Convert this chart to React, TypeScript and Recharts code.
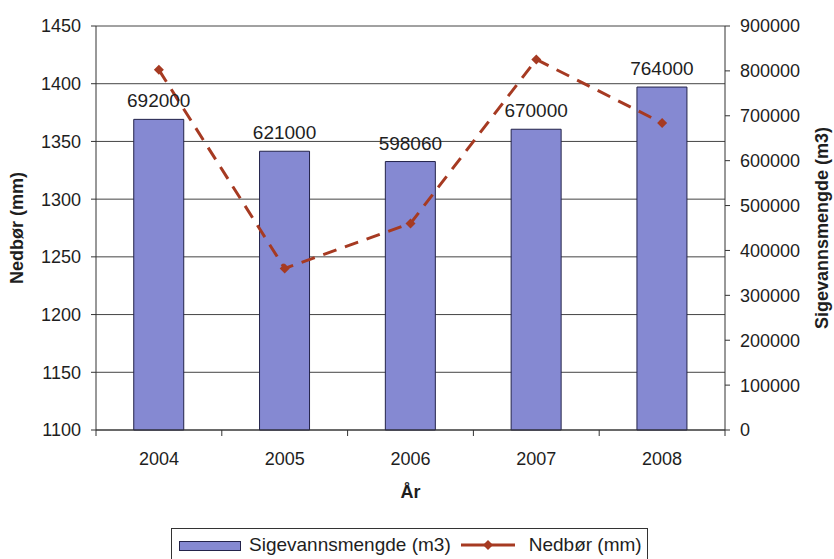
import React from "react";
import {
  ComposedChart,
  Bar,
  Line,
  XAxis,
  YAxis,
  CartesianGrid,
  LabelList,
  Legend,
} from "recharts";

const years = ["2004", "2005", "2006", "2007", "2008"];
const sigevann = [692000, 621000, 598060, 670000, 764000];
const nedbor = [1412, 1240, 1279, 1421, 1366];
const mmTicks = [1100, 1150, 1200, 1250, 1300, 1350, 1400, 1450];
const m3Ticks = [0, 100000, 200000, 300000, 400000, 500000, 600000, 700000, 800000, 900000];

const data = years.map((year, i) => ({
  year,
  sigevann: sigevann[i],
  nedbor: nedbor[i],
}));

const FONT = "'Liberation Sans', Arial, sans-serif";
const TEXT = "#1e1e1e";
const BAR_FILL = "#8589d2";
const BAR_STROKE = "#23234a";
const LINE_COLOR = "#a63a22";

function Diamond(props: any) {
  const { cx, cy, index } = props;
  if (cx == null || cy == null) return null;
  const r = 5;
  return (
    <polygon
      key={`d-${index}`}
      points={`${cx},${cy - r} ${cx + r},${cy} ${cx},${cy + r} ${cx - r},${cy}`}
      fill={LINE_COLOR}
    />
  );
}

function YearTick(props: any) {
  const { x, y, payload, index, visibleTicksCount } = props;
  const half = payload?.offset ?? 63;
  const axisY = y - 22;
  return (
    <g>
      <line x1={x - half} y1={axisY} x2={x - half} y2={axisY + 6} stroke="#333" />
      {index === visibleTicksCount - 1 && (
        <line x1={x + half} y1={axisY} x2={x + half} y2={axisY + 6} stroke="#333" />
      )}
      <text x={x} y={y} dy="0.71em" textAnchor="middle" fontSize={18} fill={TEXT} fontFamily={FONT}>
        {payload.value}
      </text>
    </g>
  );
}

function LegendBox() {
  return (
    <div
      style={{
        boxSizing: "border-box",
        width: 477,
        height: 33,
        border: "1px solid #333",
        display: "flex",
        alignItems: "center",
        paddingLeft: 7,
        fontFamily: FONT,
        fontSize: 19,
        color: TEXT,
        background: "#fff",
      }}
    >
      <span
        style={{
          display: "inline-block",
          width: 60,
          height: 8,
          background: BAR_FILL,
          border: `1px solid ${BAR_STROKE}`,
          marginRight: 8,
          marginTop: 3,
        }}
      />
      <span>Sigevannsmengde (m3)</span>
      <svg width={58} height={14} style={{ marginLeft: 8, marginRight: 12 }}>
        <line x1={2} y1={7} x2={56} y2={7} stroke={LINE_COLOR} strokeWidth={3} />
        <polygon points="29,2 34,7 29,12 24,7" fill={LINE_COLOR} />
      </svg>
      <span>Nedbør (mm)</span>
    </div>
  );
}

export default function App() {
  return (
    <div style={{ width: 834, height: 559, background: "#fff" }}>
      <style>{`body{margin:0}`}</style>
      <ComposedChart
        width={834}
        height={559}
        data={data}
        margin={{ top: 26, right: 0, bottom: 0, left: 0 }}
        barCategoryGap="30%"
        style={{ fontFamily: FONT }}
      >
        <CartesianGrid yAxisId="mm" vertical={false} stroke="#444" strokeWidth={1} />
        <XAxis
          dataKey="year"
          height={129}
          tickLine={false}
          tickSize={0}
          tickMargin={22}
          axisLine={{ stroke: "#333" }}
          tick={<YearTick />}
          interval={0}
          label={({ viewBox }: any) => (
            <text
              x={viewBox.x + viewBox.width / 2}
              y={viewBox.y + 62}
              textAnchor="middle"
              dominantBaseline="central"
              fontSize={18}
              fontWeight="bold"
              fill={TEXT}
              fontFamily={FONT}
            >
              År
            </text>
          )}
        />
        <YAxis
          yAxisId="mm"
          width={96}
          domain={[1100, 1450]}
          ticks={mmTicks}
          interval={0}
          tickSize={5}
          tickMargin={10}
          axisLine={{ stroke: "#333" }}
          tickLine={{ stroke: "#333" }}
          tick={{ fontSize: 18, fill: TEXT, fontFamily: FONT }}
          label={({ viewBox }: any) => (
            <text
              x={viewBox.x + 17}
              y={viewBox.y + viewBox.height / 2}
              transform={`rotate(-90 ${viewBox.x + 17} ${viewBox.y + viewBox.height / 2})`}
              textAnchor="middle"
              dominantBaseline="central"
              fontSize={18}
              fontWeight="bold"
              fill={TEXT}
              fontFamily={FONT}
            >
              Nedbør (mm)
            </text>
          )}
        />
        <YAxis
          yAxisId="m3"
          orientation="right"
          width={109}
          domain={[0, 900000]}
          ticks={m3Ticks}
          interval={0}
          tickSize={5}
          tickMargin={10}
          axisLine={{ stroke: "#333" }}
          tickLine={{ stroke: "#333" }}
          tick={{ fontSize: 18, fill: TEXT, fontFamily: FONT }}
          label={({ viewBox }: any) => {
            const cx = viewBox.x + viewBox.width - 12;
            const cy = viewBox.y + viewBox.height / 2;
            return (
              <text
                x={cx}
                y={cy}
                transform={`rotate(-90 ${cx} ${cy})`}
                textAnchor="middle"
                dominantBaseline="central"
                fontSize={18}
                fontWeight="bold"
                fill={TEXT}
                fontFamily={FONT}
              >
                Sigevannsmengde (m3)
              </text>
            );
          }}
        />
        <Bar
          yAxisId="m3"
          dataKey="sigevann"
          name="Sigevannsmengde (m3)"
          fill={BAR_FILL}
          stroke={BAR_STROKE}
          strokeWidth={1}
          isAnimationActive={false}
        >
          <LabelList
            dataKey="sigevann"
            position="top"
            offset={12}
            fontSize={19}
            fill={TEXT}
            fontFamily={FONT}
          />
        </Bar>
        <Line
          yAxisId="mm"
          dataKey="nedbor"
          name="Nedbør (mm)"
          stroke={LINE_COLOR}
          strokeWidth={3}
          strokeDasharray="14 9"
          dot={<Diamond />}
          activeDot={false}
          isAnimationActive={false}
        />
        <Legend
          layout="horizontal"
          verticalAlign="middle"
          align="center"
          content={() => <LegendBox />}
          wrapperStyle={{ left: 171, top: 528, width: 477, height: 33 }}
        />
      </ComposedChart>
    </div>
  );
}
